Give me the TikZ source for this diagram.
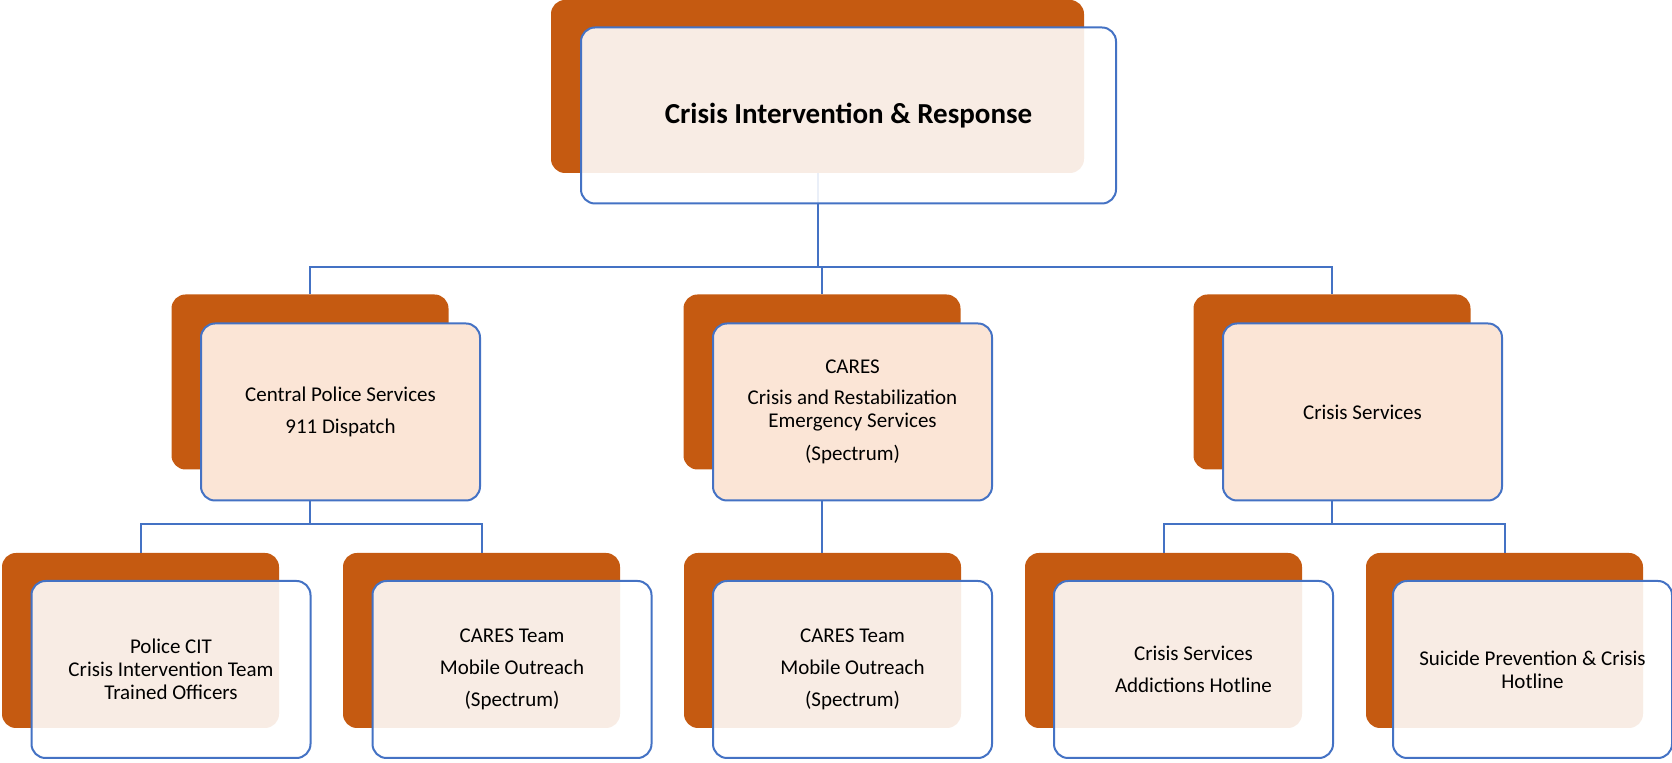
\documentclass[tikz,border=0pt]{standalone}
\usepackage{fontspec}
\setmainfont{Carlito}

\definecolor{cardorange}{HTML}{C55A11}
\definecolor{cardpeach}{HTML}{FBE5D6}
\definecolor{cardblue}{HTML}{4472C4}

\tikzset{
    backcard/.style={fill=cardorange, rounded corners=7pt, inner sep=0pt,
        minimum width=138.5pt, minimum height=87.5pt},
    frontcard/.style={draw=cardblue, line width=1pt, rounded corners=7pt,
        fill=white, fill opacity=0.89, text opacity=1, inner sep=0pt,
        minimum width=139.5pt, minimum height=88.5pt, align=center,
        font=\fontsize{10.5}{11.5}\selectfont},
    frontsolid/.style={frontcard, fill=cardpeach, fill opacity=1},
    link/.style={draw=cardblue, line width=1pt}
}

\begin{document}
\begin{tikzpicture}[x=0.5pt, y=-0.5pt]
    \useasboundingbox (0,0) rectangle (1672,763);

    % Orange back cards
    \node[backcard, minimum width=266.5pt, minimum height=86.5pt] (top) at (817.5,86.5) {};
    \node[backcard] (police) at (310,382) {};
    \node[backcard] (cares) at (822,382) {};
    \node[backcard] (crisis) at (1332,382) {};
    \node[backcard] (cit) at (140.5,640.5) {};
    \node[backcard] (teamA) at (481.5,640.5) {};
    \node[backcard] (teamB) at (822.5,640.5) {};
    \node[backcard] (hotline) at (1163.5,640.5) {};
    \node[backcard] (suicide) at (1504.5,640.5) {};

    % Connectors (behind the front cards)
    \draw[link] (top.south) -- ++(0,94) -| (police.north);
    \draw[link] (top.south) -- ++(0,94) -| (cares.north);
    \draw[link] (top.south) -- ++(0,94) -| (crisis.north);
    \draw[link] (police.south) -- ++(0,54) -| (cit.north);
    \draw[link] (police.south) -- ++(0,54) -| (teamA.north);
    \draw[link] (cares.south) -- (cares.south |- teamB.north);
    \draw[link] (crisis.south) -- ++(0,54) -| (hotline.north);
    \draw[link] (crisis.south) -- ++(0,54) -| (suicide.north);

    % Front cards with the labels
    \node[frontcard, minimum width=267.5pt, minimum height=88pt,
        font=\fontsize{14.5}{17}\selectfont\bfseries] (topF) at (848.5,115.5)
        {Crisis Intervention \& Response};
    \node[frontsolid] (policeF) at (340.5,412)
        {Central Police Services\\[4.5pt] 911 Dispatch};
    \node[frontsolid] (caresF) at (852.5,412)
        {CARES\\[4pt] Crisis and Restabilization\\ Emergency Services\\[5pt] (Spectrum)};
    \node[frontsolid] (crisisF) at (1362.5,412) {Crisis Services};
    \node[frontcard] (citF) at (171,669.5)
        {Police CIT\\ Crisis Intervention Team\\ Trained Officers};
    \node[frontcard] (teamAF) at (512,669.5)
        {CARES Team\\[4.5pt] Mobile Outreach\\[4.5pt] (Spectrum)};
    \node[frontcard] (teamBF) at (852.5,669.5)
        {CARES Team\\[4.5pt] Mobile Outreach\\[4.5pt] (Spectrum)};
    \node[frontcard] (hotlineF) at (1193.5,669.5)
        {Crisis Services\\[4.5pt] Addictions Hotline};
    \node[frontcard] (suicideF) at (1532.5,669.5)
        {Suicide Prevention \& Crisis\\ Hotline};
\end{tikzpicture}
\end{document}
